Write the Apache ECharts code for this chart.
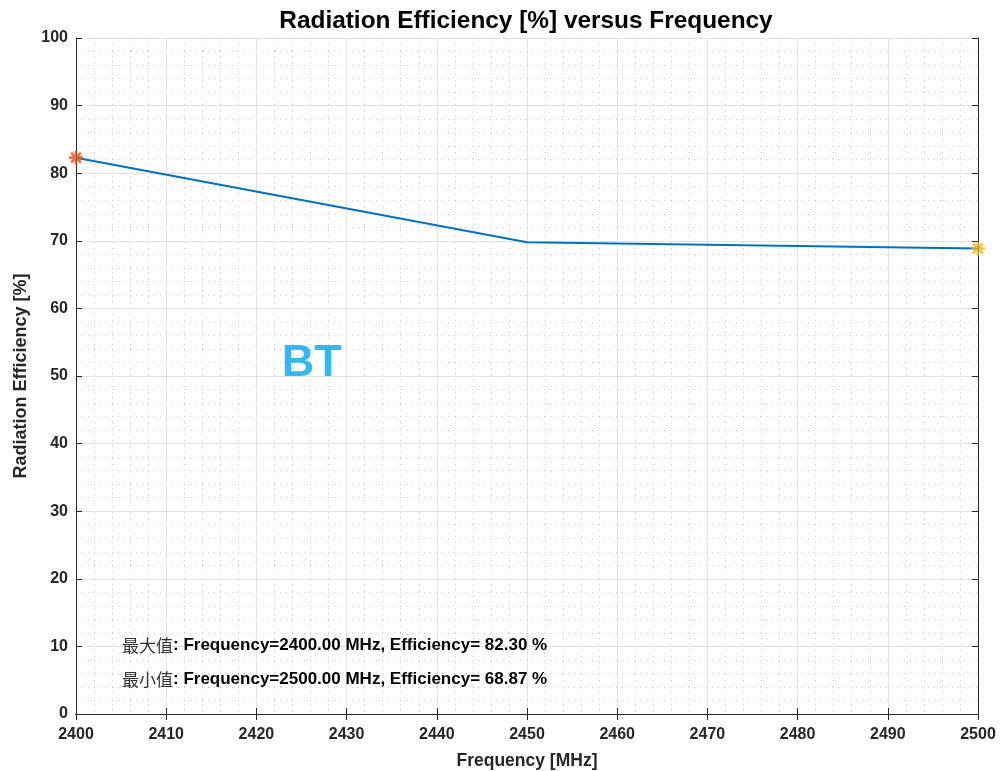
<!DOCTYPE html>
<html>
<head>
<meta charset="utf-8">
<title>Radiation Efficiency</title>
<script src="https://cdn.jsdelivr.net/npm/echarts@6/dist/echarts.min.js"></script>
<style>
	html, body { margin: 0; padding: 0; background: #fff; }
	#main { width: 1000px; height: 771px; }
</style>
</head>
<body>
<div id="main"></div>
<script type="text/javascript">
	// 数据
	var freq = [2400, 2450, 2500];
	var efficiency = [82.30, 69.80, 68.87];
	var maxPoint = [2400, 82.30];
	var minPoint = [2500, 68.87];
	var bandLabel = ['BT'];
	var bandPos = [2422.8, 51.8];
	var noteLines = [
		['最大值', ': Frequency=2400.00 MHz, Efficiency= 82.30 %'],
		['最小值', ': Frequency=2500.00 MHz, Efficiency= 68.87 %']
	];

	var lineData = [];
	for (var i = 0; i < freq.length; i++) {
		lineData.push([freq[i], efficiency[i]]);
	}

	// 星号标记
	var asterisk = 'path://M-1,0 L1,0 M0,-1 L0,1 M-0.7,-0.7 L0.7,0.7 M-0.7,0.7 L0.7,-0.7';
	var textColor = '#262626';
	var fontMain = 'Liberation Sans, Arial, sans-serif';

	var chart = echarts.init(document.getElementById('main'));

	var axisLineStyle = { show : true, lineStyle : { color : textColor, width : 1 } };
	var axisTickStyle = { show : true, inside : true, length : 6, lineStyle : { color : textColor } };
	var minorGrid = { show : true, lineStyle : { color : '#cccccc', type : [1, 5], width : 1 } };
	var majorGrid = { show : true, lineStyle : { color : '#e2e2e2', width : 1 } };

	function noteText(line) {
		return '{c|' + line[0] + '}{e|' + line[1] + '}';
	}
	var noteRich = {
		c : { fontFamily : 'Noto Sans CJK SC', fontSize : 17, fontWeight : 'normal', fill : '#333' },
		e : { fontFamily : fontMain, fontSize : 17, fontWeight : 'bold', fill : '#000' }
	};

	var option = {
		backgroundColor : '#fff',
		animation : false,
		title : {
			text : 'Radiation Efficiency [%] versus Frequency',
			left : 521,
			textAlign : 'center',
			top : 4,
			textStyle : { fontFamily : fontMain, fontSize : 24.4, fontWeight : 'bold', color : '#000' }
		},
		grid : { left : 76, right : 22, top : 38, bottom : 57, containLabel : false, outerBoundsMode : 'none' },
		xAxis : [ {
			type : 'value',
			min : 2400,
			max : 2500,
			interval : 10,
			name : 'Frequency [MHz]',
			nameLocation : 'middle',
			nameGap : 38,
			nameTextStyle : { fontFamily : fontMain, fontSize : 17.5, fontWeight : 'bold', color : textColor },
			axisLine : axisLineStyle,
			axisTick : axisTickStyle,
			axisLabel : {
				fontFamily : fontMain, fontSize : 16, fontWeight : 'bold', color : textColor, margin : 13,
				formatter : function(v) { return String(v); }
			},
			splitLine : majorGrid,
			minorTick : { show : false, splitNumber : 5 },
			minorSplitLine : minorGrid
		}, {
			type : 'value',
			position : 'top',
			min : 2400,
			max : 2500,
			interval : 10,
			axisLine : axisLineStyle,
			axisTick : axisTickStyle,
			axisLabel : { show : false },
			splitLine : { show : false }
		} ],
		yAxis : [ {
			type : 'value',
			min : 0,
			max : 100,
			interval : 10,
			name : 'Radiation Efficiency [%]',
			nameLocation : 'middle',
			nameGap : 43,
			nameTextStyle : { fontFamily : fontMain, fontSize : 18, fontWeight : 'bold', color : textColor },
			axisLine : axisLineStyle,
			axisTick : axisTickStyle,
			axisLabel : { fontFamily : fontMain, fontSize : 16, fontWeight : 'bold', color : textColor, margin : 8 },
			splitLine : majorGrid,
			minorTick : { show : false, splitNumber : 5 },
			minorSplitLine : minorGrid
		}, {
			type : 'value',
			position : 'right',
			min : 0,
			max : 100,
			interval : 10,
			axisLine : axisLineStyle,
			axisTick : axisTickStyle,
			axisLabel : { show : false },
			splitLine : { show : false }
		} ],
		series : [ {
			name : 'Efficiency',
			type : 'line',
			data : lineData,
			showSymbol : false,
			lineStyle : { color : '#0072BD', width : 2 },
			z : 3
		}, {
			name : 'max',
			type : 'scatter',
			data : [ maxPoint ],
			symbol : asterisk,
			symbolSize : 14,
			itemStyle : { color : 'none', borderColor : '#D95319', borderWidth : 2.6 },
			z : 4
		}, {
			name : 'min',
			type : 'scatter',
			data : [ minPoint ],
			symbol : asterisk,
			symbolSize : 14,
			itemStyle : { color : 'none', borderColor : '#EDB120', borderWidth : 2.6 },
			z : 4
		}, {
			name : 'band',
			type : 'scatter',
			data : [ bandPos ],
			symbolSize : 0,
			label : {
				show : true,
				position : 'right',
				distance : 0,
				formatter : bandLabel[0],
				fontFamily : fontMain,
				fontSize : 45,
				fontWeight : 'bold',
				color : '#00A8EC'
			},
			z : 5
		} ],
		graphic : [ {
			type : 'text',
			left : 122,
			top : 637,
			z : 100,
			style : { rich : noteRich, text : noteText(noteLines[0]) }
		}, {
			type : 'text',
			left : 122,
			top : 671,
			z : 100,
			style : { rich : noteRich, text : noteText(noteLines[1]) }
		} ]
	};

	chart.setOption(option);
</script>
</body>
</html>
